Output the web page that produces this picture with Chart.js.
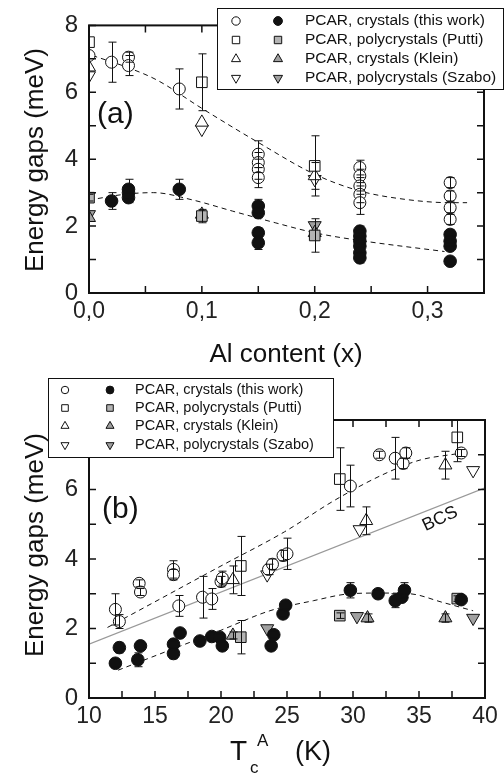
<!DOCTYPE html>
<html>
<head>
<meta charset="utf-8">
<title>Energy gaps</title>
<script src="https://cdn.jsdelivr.net/npm/chart.js@4.4.1/dist/chart.umd.min.js"></script>
<style>
  body { margin: 0; background: #fff; }
  canvas { display: block; }
</style>
</head>
<body>
<canvas id="chartA" width="504" height="372"></canvas>
<canvas id="chartB" width="504" height="404"></canvas>
<script>
// ---- panel (a): gaps vs Al content ----
const aOpenCircX = [0, 0.02, 0.035, 0.035, 0.08, 0.15, 0.15, 0.15, 0.15, 0.24, 0.24, 0.24, 0.24, 0.24, 0.32, 0.32, 0.32, 0.32];
const aOpenCircY = [7.1, 6.9, 7.05, 6.8, 6.1, 4.15, 3.9, 3.7, 3.45, 3.75, 3.5, 3.2, 2.95, 2.7, 3.3, 2.9, 2.55, 2.2];
const aOpenCircErr = [0, 0.6, 0.15, 0.3, 0.6, 0.4, 0.3, 0.3, 0.3, 0.22, 0.2, 0.25, 0.25, 0.35, 0.15, 0.15, 0.15, 0.15];
const aFillCircX = [0.02, 0.035, 0.035, 0.035, 0.08, 0.15, 0.15, 0.15, 0.15, 0.24, 0.24, 0.24, 0.24, 0.24, 0.24, 0.32, 0.32, 0.32, 0.32];
const aFillCircY = [2.75, 3.1, 3.0, 2.85, 3.1, 2.6, 2.4, 1.8, 1.5, 1.85, 1.7, 1.55, 1.4, 1.2, 1.05, 1.75, 1.55, 1.4, 0.95];
const aFillCircErr = [0.25, 0.3, 0.2, 0.15, 0.3, 0.2, 0.15, 0.15, 0.2, 0.15, 0.1, 0.1, 0.1, 0.1, 0.15, 0.15, 0.15, 0.1, 0.1];
const aOpenSqX = [0, 0.1, 0.2];
const aOpenSqY = [7.5, 6.3, 3.8];
const aOpenSqErr = [0, 0.85, 0.9];
const aFillSqX = [0, 0.1, 0.2];
const aFillSqY = [2.85, 2.3, 1.72];
const aFillSqErr = [0.1, 0.2, 0.5];
const aOpenUpX = [0, 0.1, 0.2];
const aOpenUpY = [6.75, 5.1, 3.5];
const aOpenUpErr = [0, 0, 0.4];
const aOpenDnX = [0, 0.1, 0.2];
const aOpenDnY = [6.5, 4.9, 3.4];
const aFillUpX = [0, 0.1, 0.2];
const aFillUpY = [2.25, 2.35, 1.8];
const aFillDnX = [0, 0.2];
const aFillDnY = [2.35, 2.02];
const aFitBigX = [0.003, 0.036, 0.06, 0.1, 0.15, 0.2, 0.24, 0.28, 0.32, 0.335];
const aFitBigY = [7.1, 6.72, 6.37, 5.52, 4.5, 3.55, 3.05, 2.8, 2.7, 2.7];
const aFitSmallX = [0, 0.034, 0.057, 0.092, 0.127, 0.165, 0.2, 0.24, 0.315];
const aFitSmallY = [2.78, 2.96, 3.0, 2.78, 2.45, 2.1, 1.8, 1.57, 1.24];

// ---- panel (b): gaps vs Tc of Andreev ----
const bOpenCircX = [12.0, 12.3, 13.8, 13.9, 16.4, 16.4, 16.8, 18.6, 19.3, 20.0, 20.1, 23.6, 23.9, 24.7, 25.0, 29.8, 32.0, 33.2, 33.8, 34.0, 38.2];
const bOpenCircY = [2.55, 2.2, 3.3, 3.05, 3.7, 3.55, 2.65, 2.9, 2.85, 3.35, 3.45, 3.7, 3.85, 4.1, 4.15, 6.1, 7.0, 6.9, 6.75, 7.05, 7.05];
const bOpenCircErr = [0.45, 0.2, 0.1, 0.1, 0.25, 0.15, 0.3, 0.6, 0.3, 0.15, 0.2, 0.15, 0.15, 0.15, 0.45, 0.6, 0.1, 0.6, 0.15, 0.15, 0.1];
const bFillCircX = [12.0, 12.3, 13.7, 13.9, 16.4, 16.4, 16.9, 18.4, 19.3, 19.9, 20.1, 23.8, 24.0, 24.7, 24.9, 29.8, 31.9, 33.2, 33.7, 33.9, 38.2];
const bFillCircY = [1.0, 1.45, 1.1, 1.5, 1.28, 1.55, 1.87, 1.64, 1.77, 1.75, 1.5, 1.5, 1.82, 2.42, 2.67, 3.1, 3.0, 2.8, 2.9, 3.1, 2.83];
const bFillCircErr = [0.12, 0.15, 0.2, 0.12, 0.15, 0.1, 0.1, 0.12, 0.12, 0.1, 0.12, 0.1, 0.1, 0.1, 0.1, 0.22, 0.12, 0.2, 0.1, 0.22, 0.08];
const bOpenSqX = [21.5, 29.0, 37.9];
const bOpenSqY = [3.8, 6.3, 7.5];
const bOpenSqErr = [0.85, 0.9, 0.7];
const bFillSqX = [21.5, 29.0, 37.9];
const bFillSqY = [1.75, 2.37, 2.86];
const bFillSqErr = [0.48, 0.08, 0.08];
const bOpenUpX = [20.9, 31.0, 37.0];
const bOpenUpY = [3.4, 5.1, 6.7];
const bOpenUpErr = [0.4, 0.4, 0.4];
const bOpenDnX = [23.5, 30.5, 39.1];
const bOpenDnY = [3.55, 4.85, 6.55];
const bFillUpX = [20.9, 31.1, 37.0];
const bFillUpY = [1.8, 2.3, 2.3];
const bFillUpErr = [0.1, 0.12, 0.12];
const bFillDnX = [23.5, 30.3, 39.1];
const bFillDnY = [2.0, 2.35, 2.3];
const bcsX = [10, 40];
const bcsY = [1.55, 6.05];
const bFitBigX = [11.4, 15, 20, 24.8, 28.7, 32.5, 35.1, 37.9];
const bFitBigY = [2.03, 2.77, 3.8, 4.78, 5.71, 6.47, 6.85, 7.03];
const bFitSmallX = [12.2, 16, 20, 23.7, 27, 29.8, 32.1, 34.3, 36.8, 39.1];
const bFitSmallY = [0.8, 1.36, 1.95, 2.51, 2.8, 3.0, 3.02, 3.0, 2.75, 2.51];

const legendNames = [
  'PCAR, crystals (this work)',
  'PCAR, polycrystals (Putti)',
  'PCAR, crystals (Klein)',
  'PCAR, polycrystals (Szabo)'
];

const FONT = "'Liberation Sans', Arial, Helvetica, sans-serif";
Chart.defaults.font.family = FONT;
Chart.defaults.color = '#111';

function pts(xs, ys) {
  return xs.map((x, i) => ({ x: x, y: ys[i] }));
}

function marker(label, xs, ys, errs, style, fill, r, rot) {
  return {
    label: label,
    data: pts(xs, ys),
    errors: errs,
    pointStyle: style,
    pointRadius: r,
    pointHoverRadius: r,
    pointRotation: rot || 0,
    backgroundColor: fill,
    borderColor: '#111',
    borderWidth: 1,
    showLine: false,
    clip: 0
  };
}

function fitLine(xs, ys, color, dash, width) {
  return {
    data: pts(xs, ys),
    showLine: true,
    borderColor: color,
    borderWidth: width,
    borderDash: dash,
    pointRadius: 0,
    cubicInterpolationMode: 'monotone',
    clip: 0
  };
}

// error bars, frame with inward ticks, texts and the two-column legend
const panelPlugin = {
  id: 'panel',
  afterDatasetsDraw(chart, args, o) {
    const ctx = chart.ctx, a = chart.chartArea;
    const xs = chart.scales.x, ys = chart.scales.y;
    ctx.save();
    ctx.beginPath();
    ctx.rect(a.left, a.top, a.width, a.height);
    ctx.clip();
    ctx.strokeStyle = '#111';
    ctx.lineWidth = 1;
    chart.data.datasets.forEach(ds => {
      if (!ds.errors) return;
      ds.data.forEach((p, i) => {
        const e = ds.errors[i];
        if (!e) return;
        const px = Math.round(xs.getPixelForValue(p.x)) + 0.5;
        const y1 = ys.getPixelForValue(p.y + e), y2 = ys.getPixelForValue(p.y - e);
        ctx.beginPath();
        ctx.moveTo(px, y1); ctx.lineTo(px, y2);
        ctx.moveTo(px - 4, y1); ctx.lineTo(px + 4, y1);
        ctx.moveTo(px - 4, y2); ctx.lineTo(px + 4, y2);
        ctx.stroke();
      });
    });
    ctx.restore();

    ctx.save();
    ctx.strokeStyle = '#111';
    ctx.lineWidth = 1.5;
    const len = 7;
    ctx.beginPath();
    xs.ticks.forEach(t => {
      const px = xs.getPixelForValue(t.value);
      ctx.moveTo(px, a.bottom); ctx.lineTo(px, a.bottom - len);
      ctx.moveTo(px, a.top); ctx.lineTo(px, a.top + len);
    });
    ys.ticks.forEach(t => {
      const py = ys.getPixelForValue(t.value);
      ctx.moveTo(a.left, py); ctx.lineTo(a.left + len, py);
      ctx.moveTo(a.right, py); ctx.lineTo(a.right - len, py);
    });
    ctx.stroke();
    ctx.lineWidth = 2;
    ctx.strokeRect(a.left, a.top, a.width, a.height);
    ctx.restore();
  },
  afterDraw(chart, args, o) {
    const ctx = chart.ctx;
    const xs = chart.scales.x, ys = chart.scales.y;
    ctx.save();
    ctx.fillStyle = '#111';
    (o.texts || []).forEach(t => {
      let x = t.x, y = t.y;
      if (t.vx !== undefined) { x = xs.getPixelForValue(t.vx); y = ys.getPixelForValue(t.vy); }
      ctx.save();
      ctx.font = t.size + 'px ' + FONT;
      ctx.textAlign = t.align || 'left';
      ctx.textBaseline = t.base || 'alphabetic';
      ctx.translate(x, y);
      if (t.rotate) ctx.rotate(t.rotate * Math.PI / 180);
      ctx.fillText(t.text, 0, 0);
      ctx.restore();
    });

    const L = o.legend;
    const ds = chart.data.datasets;
    ctx.fillStyle = '#fff';
    ctx.fillRect(L.left, L.top, L.right - L.left, L.bottom - L.top);
    ctx.strokeStyle = '#111';
    ctx.lineWidth = 1;
    ctx.strokeRect(L.left + 0.5, L.top + 0.5, L.right - L.left, L.bottom - L.top);
    ctx.font = L.size + 'px ' + FONT;
    ctx.textBaseline = 'middle';
    ctx.textAlign = 'left';
    legendNames.forEach((name, i) => {
      const y = L.rows[i];
      [ds[i], ds[i + 4]].forEach((d, k) => {
        ctx.fillStyle = d.backgroundColor;
        ctx.strokeStyle = d.borderColor;
        ctx.lineWidth = 1;
        Chart.helpers.drawPoint(ctx, {
          pointStyle: d.pointStyle,
          rotation: d.pointRotation,
          radius: d.pointRadius * L.scale,
          borderWidth: 1
        }, L.cols[k], y);
      });
      ctx.fillStyle = '#111';
      ctx.fillText(name, L.textX, y);
    });
    ctx.restore();
  }
};

function scales(xMin, xMax, xStep, xFmt, xHeight) {
  return {
    x: {
      type: 'linear', min: xMin, max: xMax,
      grid: { display: false, drawTicks: false },
      border: { display: false },
      ticks: { stepSize: xStep, autoSkip: false, maxRotation: 0, padding: 5,
               font: { size: 23 }, color: '#222', callback: xFmt },
      afterFit: s => { s.height = xHeight; }
    },
    y: {
      type: 'linear', min: 0, max: 8,
      grid: { display: false, drawTicks: false },
      border: { display: false },
      ticks: { stepSize: 1, autoSkip: false, padding: 11, font: { size: 24 }, color: '#222',
               callback: v => (v % 2 === 0 ? String(v) : '') },
      afterFit: s => { s.width = 77; }
    }
  };
}

// chart (a)
new Chart(document.getElementById('chartA'), {
  type: 'scatter',
  data: {
    datasets: [
      marker('open circles', aOpenCircX, aOpenCircY, aOpenCircErr, 'circle', '#fff', 6),
      marker('open squares', aOpenSqX, aOpenSqY, aOpenSqErr, 'rect', '#fff', 7.5),
      marker('open up', aOpenUpX, aOpenUpY, aOpenUpErr, 'triangle', '#fff', 7.5),
      marker('open down', aOpenDnX, aOpenDnY, null, 'triangle', '#fff', 7.5, 180),
      marker('filled circles', aFillCircX, aFillCircY, aFillCircErr, 'circle', '#111', 6.3),
      marker('gray squares', aFillSqX, aFillSqY, aFillSqErr, 'rect', '#b4b4b4', 7.5),
      marker('gray up', aFillUpX, aFillUpY, null, 'triangle', '#a0a0a0', 7.5),
      marker('gray down', aFillDnX, aFillDnY, null, 'triangle', '#a0a0a0', 7.5, 180),
      fitLine(aFitBigX, aFitBigY, '#111', [5, 4], 1),
      fitLine(aFitSmallX, aFitSmallY, '#111', [5, 4], 1)
    ]
  },
  options: {
    responsive: false,
    animation: false,
    layout: { padding: { left: 12, right: 20, top: 15, bottom: 0 } },
    plugins: {
      legend: { display: false },
      tooltip: { enabled: false },
      panel: {
        texts: [
          { text: 'Energy gaps (meV)', x: 43, y: 160, size: 26, align: 'center', rotate: -90 },
          { text: 'Al content (x)', x: 286, y: 362, size: 26, align: 'center' },
          { text: '(a)', x: 97, y: 123, size: 30 }
        ],
        legend: { left: 217, top: 8, right: 503, bottom: 89, rows: [21, 40, 59, 78],
                  cols: [236, 278], textX: 305, size: 15.5, scale: 0.7 }
      }
    },
    scales: scales(0, 0.35, 0.05,
      v => (Math.round(v * 100) % 10 === 0 ? v.toFixed(1).replace('.', ',') : ''), 79)
  },
  plugins: [panelPlugin]
});

// chart (b)
new Chart(document.getElementById('chartB'), {
  type: 'scatter',
  data: {
    datasets: [
      marker('open circles', bOpenCircX, bOpenCircY, bOpenCircErr, 'circle', '#fff', 6),
      marker('open squares', bOpenSqX, bOpenSqY, bOpenSqErr, 'rect', '#fff', 7.5),
      marker('open up', bOpenUpX, bOpenUpY, bOpenUpErr, 'triangle', '#fff', 7.5),
      marker('open down', bOpenDnX, bOpenDnY, null, 'triangle', '#fff', 7.5, 180),
      marker('filled circles', bFillCircX, bFillCircY, bFillCircErr, 'circle', '#111', 6.3),
      marker('gray squares', bFillSqX, bFillSqY, bFillSqErr, 'rect', '#b4b4b4', 7.5),
      marker('gray up', bFillUpX, bFillUpY, bFillUpErr, 'triangle', '#a0a0a0', 7.5),
      marker('gray down', bFillDnX, bFillDnY, null, 'triangle', '#a0a0a0', 7.5, 180),
      fitLine(bFitBigX, bFitBigY, '#111', [5, 4], 1),
      fitLine(bFitSmallX, bFitSmallY, '#111', [5, 4], 1),
      fitLine(bcsX, bcsY, '#999', [], 1.2)
    ]
  },
  options: {
    responsive: false,
    animation: false,
    layout: { padding: { left: 12, right: 19, top: 48, bottom: 0 } },
    plugins: {
      legend: { display: false },
      tooltip: { enabled: false },
      panel: {
        texts: [
          { text: 'Energy gaps (meV)', x: 43, y: 173, size: 26, align: 'center', rotate: -90 },
          { text: 'T', x: 230, y: 388, size: 28 },
          { text: 'c', x: 250, y: 401, size: 17 },
          { text: 'A', x: 257, y: 374, size: 17 },
          { text: '(K)', x: 295, y: 388, size: 27 },
          { text: '(b)', x: 102, y: 146, size: 30 },
          { text: 'BCS', vx: 36.6, vy: 5.15, size: 18, align: 'center', base: 'middle', rotate: -25 }
        ],
        legend: { left: 48, top: 6, right: 333, bottom: 85, rows: [18, 36, 54, 73],
                  cols: [65, 110], textX: 135, size: 14.5, scale: 0.62 }
      }
    },
    scales: scales(10, 40, 2.5, v => (v % 5 === 0 ? String(v) : ''), 78)
  },
  plugins: [panelPlugin]
});
</script>
</body>
</html>
